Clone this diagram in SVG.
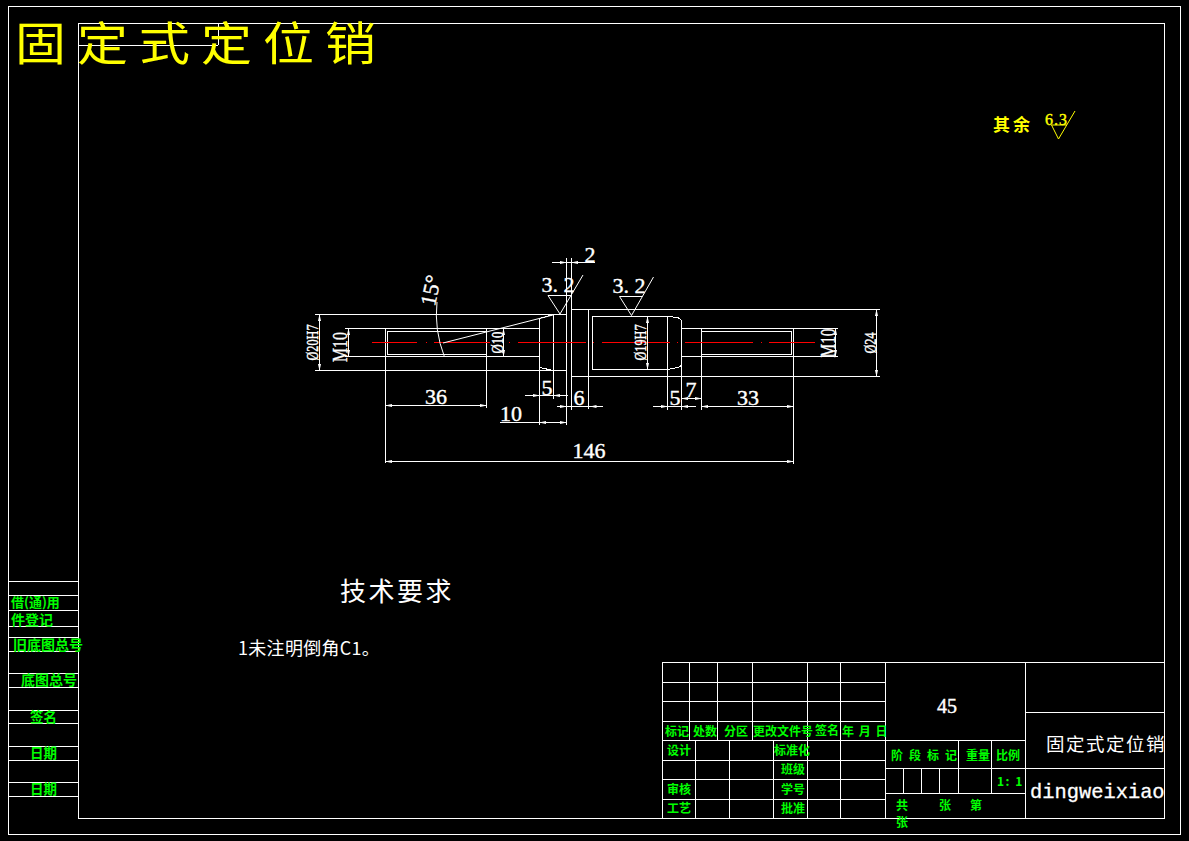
<svg xmlns="http://www.w3.org/2000/svg" width="1189" height="841" viewBox="0 0 1189 841">
<style>
.l{stroke:#fff;stroke-width:1;fill:none;shape-rendering:crispEdges}
.a{stroke:#fff;stroke-width:1;fill:none}
.r{stroke:#f00;stroke-width:1.4;fill:none;shape-rendering:crispEdges}
.y{stroke:#ff0;stroke-width:1;fill:none}
.d{marker-start:url(#ah);marker-end:url(#ah)}
.e{marker-end:url(#ah)}
text{font-family:"Liberation Serif","Noto Sans CJK SC",serif;fill:#fff}
.n{font-size:22px;text-anchor:middle;stroke:#fff;stroke-width:.4}
.v{font-size:17px;text-anchor:middle;stroke:#fff;stroke-width:.4}
.g{font-family:"Noto Sans CJK SC","Liberation Sans",sans-serif;font-size:12px;fill:#0f0;font-weight:700}
.c{font-family:"Noto Sans CJK SC",sans-serif}
</style>
<defs>
<marker id="ah" markerUnits="userSpaceOnUse" markerWidth="7" markerHeight="4" viewBox="0 0 7 4" refX="6.5" refY="2" orient="auto-start-reverse"><path d="M0 0.5L7 2L0 3.5z" fill="#fff"/></marker>
</defs>
<rect width="1189" height="841" fill="#000"/>
<g id="frame" class="l">
<rect x="8.5" y="6.5" width="1172" height="828"/>
<rect x="78.5" y="23.5" width="1086" height="795"/>
<path d="M78 45.5H218M218.500 23V45"/>
<path d="M9 581.5H78M9 595.5H78M9 610.5H78M9 626.5H78M9 637.5H78M9 651.5H78M9 673.5H78M9 687.5H78M9 710.5H78M9 723.5H78M9 746.5H78M9 760.5H78M9 782.5H78M9 796.5H78"/>
</g>
<g id="title-block" class="l">
<path d="M662.5 662.5H1164M662.5 682.5H885M662.5 701.5H885M662.5 721.5H885M662.5 740.5H1025M662.5 760.5H885M662.5 779.5H885M662.5 799.5H885M885 768.5H1164M885 793.5H1025M1025 712.5H1164"/>
<path d="M662.5 662V818M689.5 662V740M717.5 662V740M752.5 662V740M807.5 662V818M840.5 662V818M885.5 662V818M1025.5 662V818M695.5 740V818M729.5 740V818M773.5 740V818M958.5 740V793M991.5 740V793M903.5 768V793M921.5 768V793M939.5 768V793"/>
</g>
<g id="shaft" class="l">
<path d="M315 314.5H566M315 370.5H566M345 328.5H539.5M345 356.5H539.5M387 331.5H486.5M387 354.5H486.5M387 331V355"/>
<path d="M539.5 318.5L553.5 314.5M539.5 367.5L553.5 370.5"/>
<path d="M571.5 309.500H880M571.5 376.5H880M592.5 316.5H667.5M592.5 369.5H667.5M592.5 316V370"/>
<path d="M667.5 316.5L678 317.5L681.5 320.500M667.5 369.5L678 367.5L681.5 365.5"/>
<path d="M681.5 328.5H838M681.5 356.5H838M701.5 331.5H791.5M701.5 354.5H791.5M791.5 331V355"/>
<path d="M385.5 328V463M486.5 328V408M539.5 318V425M553.5 314V399M566.5 258V425M571.5 258V410M588.5 309V409M667.5 316V410M681.5 320V410M701.5 328V410M793.5 328V464"/>
</g>
<g id="centerline" class="r">
<path d="M372 342.5H417M426 342.5H427M434 342.5H490M509 342.5H510M518 342.500H586M593 342.5H594M602 342.5H670M677 342.5H678M685 342.5H753M761 342.5H762M769 342.5H815"/>
</g>
<g id="dimensions" class="a">
<path class="d" d="M319.5 314.5V370.5"/>
<path class="d" d="M348.5 328.5V356.5"/>
<path class="d" d="M503.5 328.5V356.5"/>
<path class="d" d="M647.5 316.5V369.5"/>
<path class="d" d="M835.5 328.5V356.5"/>
<path class="d" d="M876.5 309.5V376.5"/>
<path class="d" d="M385.5 405.5H486.5"/>
<path class="d" d="M385.5 461.5H793.5"/>
<path class="d" d="M701.5 406.5H793.5"/>
<path class="d" d="M681.5 398.5H701.5"/>
<path class="d" d="M539.5 422.5H566.5"/>
<path d="M500 422.5H539M525 395.5H568M557 406.5H603M653 406.5H696M552 262.5H595"/>
<path class="e" d="M525 395.5H539.5"/><path class="e" d="M568 395.5H553.5"/>
<path class="e" d="M557 406.5H566.5"/><path class="e" d="M603 406.5H590"/>
<path class="e" d="M653 406.5H667.5"/><path class="e" d="M696 406.5H681.5"/>
<path class="e" d="M552 262.5H566.5"/><path class="e" d="M595 262.5H571.5"/>
<path d="M437 302Q434 330 444.5 357"/>
<path d="M443 343L553 315"/>
</g>
<g id="roughness" class="a">
<path d="M548 295.5H571.5M548 295.5L560 314L583 275"/>
<path d="M619.5 296.5H642.5M619.5 296.5L631.5 315.5L653.5 277"/>
</g>
<g id="dim-labels">
<text class="n" x="436" y="404">36</text>
<text class="n" x="547" y="395">5</text>
<text class="n" x="511" y="421">10</text>
<text class="n" x="579" y="405">6</text>
<text class="n" x="675" y="405">5</text>
<text class="n" x="691" y="397">7</text>
<text class="n" x="748" y="405">33</text>
<text class="n" x="589" y="458">146</text>
<text class="n" x="590" y="262">2</text>
<text class="n" x="558" y="292">3. 2</text>
<text class="n" x="629" y="293">3. 2</text>
<text class="n" transform="translate(438,292) rotate(-78)">15°</text>
<text class="v" transform="translate(318,342.5) rotate(-90)" textLength="36" lengthAdjust="spacingAndGlyphs">Ø20H7</text>
<text class="n" transform="translate(347,347) rotate(-90)" textLength="30" lengthAdjust="spacingAndGlyphs">M10</text>
<text class="v" transform="translate(503,342.5) rotate(-90)" textLength="22" lengthAdjust="spacingAndGlyphs">Ø10</text>
<text class="v" transform="translate(646,342.5) rotate(-90)" textLength="36" lengthAdjust="spacingAndGlyphs">Ø19H7</text>
<text class="n" transform="translate(835,343) rotate(-90)" textLength="29" lengthAdjust="spacingAndGlyphs">M10</text>
<text class="v" transform="translate(876,343) rotate(-90)" textLength="21" lengthAdjust="spacingAndGlyphs">Ø24</text>
</g>
<g id="headline">
<text class="c" transform="translate(15,59.500) scale(1,.9)" font-size="51" style="fill:#ff0" letter-spacing="11">固定式定位销</text>
<text class="c" x="993" y="131" font-size="17" style="fill:#ff0;font-weight:700" letter-spacing="3">其余</text>
<text x="1045" y="125" font-size="16" style="fill:#ff0;stroke:#ff0;stroke-width:.4" letter-spacing="1">6.3</text>
<path class="y" d="M1051.5 125H1067M1051.5 125L1058.5 139L1075 111"/>
</g>
<g id="notes">
<text class="c" x="340" y="601" font-size="26" letter-spacing="2.5">技术要求</text>
<text class="c" x="238" y="655" font-size="18" letter-spacing=".3">1未注明倒角C1。</text>
<text x="947" y="713" font-size="20" text-anchor="middle" stroke="#fff" stroke-width=".4">45</text>
<text class="c" x="1046" y="751" font-size="18.500" letter-spacing="1.5">固定式定位销</text>
<text x="1030" y="798" font-size="20.4" stroke="#fff" stroke-width=".3" style="font-family:'Liberation Mono',monospace">dingweixiao</text>
</g>
<g id="block-labels">
<text class="g" x="665" y="736">标记</text>
<text class="g" x="693" y="736">处数</text>
<text class="g" x="724" y="736">分区</text>
<text class="g" x="753" y="736">更改文件号</text>
<text class="g" x="815" y="735">签名</text>
<text class="g" x="842" y="736" xml:space="preserve" letter-spacing="1">年 月 日</text>
<text class="g" x="667" y="755">设计</text>
<text class="g" x="774" y="755">标准化</text>
<text class="g" x="781" y="774">班级</text>
<text class="g" x="667" y="794">审核</text>
<text class="g" x="781" y="794">学号</text>
<text class="g" x="667" y="813">工艺</text>
<text class="g" x="781" y="813">批准</text>
<text class="g" x="891" y="760" letter-spacing="6">阶段标记</text>
<text class="g" x="966" y="760">重量</text>
<text class="g" x="996" y="760">比例</text>
<text class="g" x="997" y="786" xml:space="preserve" letter-spacing="1.5">1: 1</text>
<text class="g" x="896" y="810">共</text>
<text class="g" x="939" y="810">张</text>
<text class="g" x="970" y="810">第</text>
<text class="g" x="896" y="827">张</text>
</g>
<g id="side-labels">
<text class="g" x="11" y="607" style="font-size:13px">借(通)用</text>
<text class="g" x="11" y="625" style="font-size:14px">件登记</text>
<text class="g" x="13" y="650" style="font-size:14px">旧底图总号</text>
<text class="g" x="21" y="685" style="font-size:14px">底图总号</text>
<text class="g" x="30" y="722" style="font-size:13.500px">签名</text>
<text class="g" x="30" y="758" style="font-size:13.500px">日期</text>
<text class="g" x="30" y="794" style="font-size:13.500px">日期</text>
</g>
</svg>
